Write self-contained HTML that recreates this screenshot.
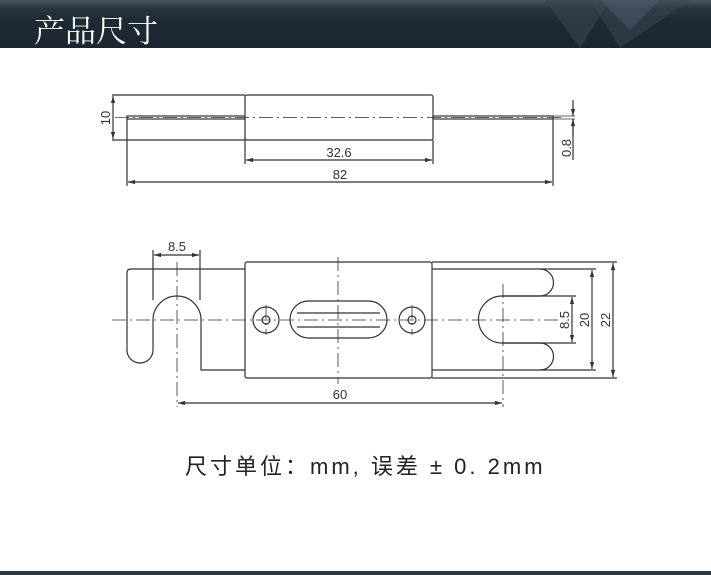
<!DOCTYPE html>
<html><head><meta charset="utf-8"><style>
html,body{margin:0;padding:0;background:#fff;width:711px;height:575px;overflow:hidden}
.hdr{position:absolute;left:0;top:0;width:711px;height:48px;background:linear-gradient(#4a5560 0,#2a3540 8px,#1f2a35 20px,#1a2530 100%);overflow:hidden}
.hdr span{position:absolute;left:34px;top:6px;color:#fff;font:31px "Noto Serif CJK SC","Noto Sans CJK SC",serif}
.ft{position:absolute;left:0;top:571px;width:711px;height:4px;background:#2b3a46}
.note{position:absolute;left:185px;top:449px;font:22px "Liberation Sans","Noto Sans CJK SC",sans-serif;color:#222;letter-spacing:3px;white-space:nowrap}
svg{position:absolute;left:0;top:0}
</style></head><body>
<div class="hdr">
<svg width="711" height="48"><polygon points="545,0 610,0 580,48" fill="#3a4550" opacity="0.6"/><polygon points="590,0 690,0 620,48" fill="#3a4a56" opacity="0.5"/><polygon points="600,0 660,0 630,30" fill="#556270" opacity="0.4"/></svg>
<span>产品尺寸</span></div>
<svg width="711" height="575" font-family="Liberation Sans, sans-serif" font-size="13" fill="none" stroke="#333" stroke-width="1.2">
<defs><marker id="a" viewBox="0 0 10 10" refX="10" refY="5" markerWidth="6" markerHeight="6" orient="auto-start-reverse"><path d="M0,2L10,5L0,8z" fill="#333" stroke="none"/></marker></defs>
<rect x="245" y="95" width="188" height="45" rx="2"/>
<line x1="112" y1="95" x2="245" y2="95"/><line x1="112" y1="140" x2="245" y2="140"/>
<line x1="113" y1="96" x2="113" y2="139" marker-start="url(#a)" marker-end="url(#a)"/>
<rect x="127" y="116" width="118" height="3"/><rect x="433" y="116" width="120" height="3"/>
<line x1="553" y1="116" x2="575" y2="116" stroke-width="0.8"/><line x1="553" y1="119" x2="575" y2="119" stroke-width="0.8"/>
<line x1="573" y1="100" x2="573" y2="116" marker-end="url(#a)"/><line x1="573" y1="135" x2="573" y2="119" marker-end="url(#a)"/>
<line x1="573" y1="119" x2="573" y2="160"/>
<line x1="115" y1="117.5" x2="565" y2="117.5" stroke-width="0.7" stroke-dasharray="14,4,2,4"/>
<line x1="127" y1="119" x2="127" y2="186"/><line x1="553" y1="119" x2="553" y2="186"/>
<line x1="245" y1="140" x2="245" y2="164"/><line x1="433" y1="140" x2="433" y2="164"/>
<line x1="246" y1="160" x2="432" y2="160" marker-start="url(#a)" marker-end="url(#a)"/>
<line x1="128" y1="182" x2="552" y2="182" marker-start="url(#a)" marker-end="url(#a)"/>
<g fill="#333" stroke="none"><text x="339" y="157" text-anchor="middle">32.6</text><text x="340" y="179" text-anchor="middle">82</text>
<text transform="translate(110,118) rotate(-90)" text-anchor="middle">10</text>
<text transform="translate(571,148) rotate(-90)" text-anchor="middle">0.8</text></g>
<path d="M245,269 H131 Q127,269 127,273 V350 A13,13 0 0 0 153,350 V320 A24,24 0 0 1 201,320 V370 H245"/>
<rect x="245" y="262" width="187" height="116" rx="2"/>
<path d="M432,269 H540 A13.5,13.5 0 0 1 540,296 H502 A23.5,23.5 0 0 0 502,343 H540 A13.5,13.5 0 0 1 540,370 H432"/>
<circle cx="266" cy="320" r="13"/><circle cx="266" cy="320" r="4"/>
<circle cx="412" cy="320" r="13"/><circle cx="412" cy="320" r="4"/>
<rect x="290" y="301" width="97" height="37" rx="18.5"/>
<line x1="297" y1="313" x2="380" y2="313"/><line x1="297" y1="327" x2="380" y2="327"/>
<g stroke-width="0.8" stroke-dasharray="14,4,2,4">
<line x1="112" y1="320" x2="560" y2="320"/>
<line x1="338" y1="257" x2="338" y2="384"/>
<line x1="177" y1="262" x2="177" y2="407"/>
<line x1="503" y1="284" x2="503" y2="407"/>
<line x1="266" y1="305" x2="266" y2="335"/><line x1="412" y1="305" x2="412" y2="335"/>
</g>
<line x1="153" y1="250" x2="153" y2="300"/><line x1="200" y1="250" x2="200" y2="300"/>
<line x1="154" y1="255" x2="199" y2="255" marker-start="url(#a)" marker-end="url(#a)"/>
<line x1="178" y1="403" x2="502" y2="403" marker-start="url(#a)" marker-end="url(#a)"/>
<line x1="502" y1="296" x2="576" y2="296"/><line x1="502" y1="343" x2="576" y2="343"/>
<line x1="572" y1="297" x2="572" y2="342" marker-start="url(#a)" marker-end="url(#a)"/>
<line x1="540" y1="269" x2="596" y2="269"/><line x1="540" y1="370" x2="596" y2="370"/>
<line x1="592" y1="270" x2="592" y2="369" marker-start="url(#a)" marker-end="url(#a)"/>
<line x1="432" y1="262" x2="617" y2="262"/><line x1="432" y1="378" x2="617" y2="378"/>
<line x1="613" y1="263" x2="613" y2="377" marker-start="url(#a)" marker-end="url(#a)"/>
<g fill="#333" stroke="none"><text x="177" y="251" text-anchor="middle">8.5</text><text x="340" y="399" text-anchor="middle">60</text>
<text transform="translate(569,320) rotate(-90)" text-anchor="middle">8.5</text>
<text transform="translate(589,320) rotate(-90)" text-anchor="middle">20</text>
<text transform="translate(610,320) rotate(-90)" text-anchor="middle">22</text></g>
</svg>
<div class="note">尺寸单位：mm, 误差 ± 0. 2mm</div>
<div class="ft"></div>
</body></html>
